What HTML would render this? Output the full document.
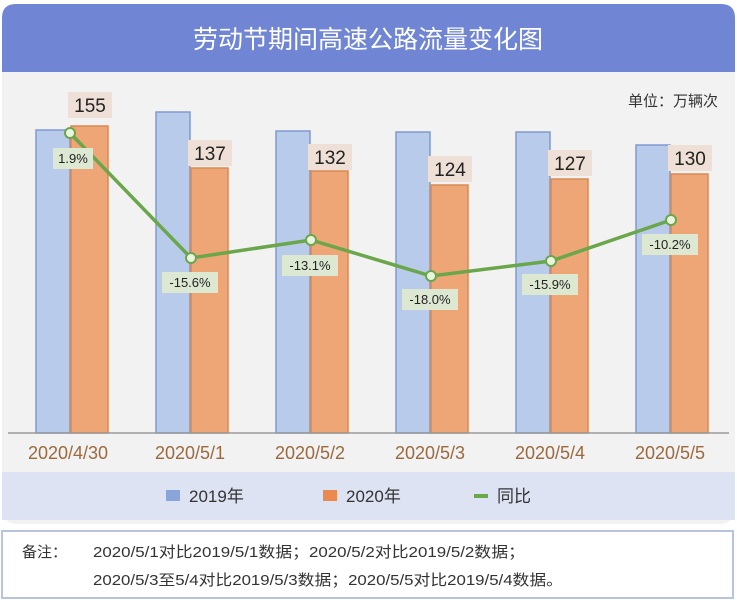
<!DOCTYPE html><html><head><meta charset="utf-8"><style>
body{margin:0;width:737px;height:600px;background:#fff;font-family:"Liberation Sans","Noto Sans CJK SC",sans-serif;overflow:hidden}
</style></head><body>
<svg width="737" height="600" xmlns="http://www.w3.org/2000/svg" style="position:absolute;left:0;top:0">
<rect x="0" y="0" width="737" height="600" fill="#fff"/>
<rect x="2" y="4" width="733" height="520" rx="14" fill="#f2f2f2"/>
<path d="M2 72 V18 Q2 4 16 4 H721 Q735 4 735 18 V72 Z" fill="#7086d4"/>
<text x="368" y="48" font-size="25" fill="#fff" text-anchor="middle" font-family="Noto Sans CJK SC,sans-serif">劳动节期间高速公路流量变化图</text>
<text x="718" y="106" font-size="15" fill="#333" text-anchor="end" font-family="Noto Sans CJK SC,sans-serif">单位：万辆次</text>
<g stroke-width="1.5">
<rect x="36" y="130" width="34" height="303" fill="#b9cbea" stroke="#7f99cf"/><rect x="71" y="126" width="37" height="307" fill="#eea677" stroke="#d98a55"/>
<rect x="156" y="112" width="34" height="321" fill="#b9cbea" stroke="#7f99cf"/><rect x="191" y="168" width="37" height="265" fill="#eea677" stroke="#d98a55"/>
<rect x="276" y="131" width="34" height="302" fill="#b9cbea" stroke="#7f99cf"/><rect x="311" y="171" width="37" height="262" fill="#eea677" stroke="#d98a55"/>
<rect x="396" y="132" width="34" height="301" fill="#b9cbea" stroke="#7f99cf"/><rect x="431" y="185" width="37" height="248" fill="#eea677" stroke="#d98a55"/>
<rect x="516" y="132" width="34" height="301" fill="#b9cbea" stroke="#7f99cf"/><rect x="551" y="179" width="37" height="254" fill="#eea677" stroke="#d98a55"/>
<rect x="636" y="145" width="34" height="288" fill="#b9cbea" stroke="#7f99cf"/><rect x="671" y="174" width="37" height="259" fill="#eea677" stroke="#d98a55"/>
</g>
<line x1="8" y1="433" x2="729" y2="433" stroke="#999" stroke-width="1.5"/>
<g font-size="19" fill="#222" text-anchor="middle">
<rect x="68" y="92" width="44" height="26" fill="#eee0d6"/><text x="90" y="112">155</text>
<rect x="188" y="140" width="44" height="26" fill="#eee0d6"/><text x="210" y="160">137</text>
<rect x="308" y="144" width="44" height="26" fill="#eee0d6"/><text x="330" y="164">132</text>
<rect x="428" y="156" width="44" height="26" fill="#eee0d6"/><text x="450" y="176">124</text>
<rect x="548" y="150" width="44" height="26" fill="#eee0d6"/><text x="570" y="170">127</text>
<rect x="668" y="145" width="44" height="26" fill="#eee0d6"/><text x="690" y="165">130</text>
</g>
<polyline points="70,133 191,258 311,240 431,276 551,261 671,220" fill="none" stroke="#6aa64a" stroke-width="3.5"/>
<g fill="#eaf5df" stroke="#6aa64a" stroke-width="2">
<circle cx="70" cy="133" r="5"/><circle cx="191" cy="258" r="5"/><circle cx="311" cy="240" r="5"/><circle cx="431" cy="276" r="5"/><circle cx="551" cy="261" r="5"/><circle cx="671" cy="220" r="5"/>
</g>
<g font-size="13" fill="#222" text-anchor="middle">
<rect x="53" y="148" width="40" height="21" fill="#dde8d2"/><text x="73" y="163">1.9%</text>
<rect x="162" y="272" width="56" height="21" fill="#dde8d2"/><text x="190" y="287">-15.6%</text>
<rect x="282" y="255" width="56" height="21" fill="#dde8d2"/><text x="310" y="270">-13.1%</text>
<rect x="402" y="289" width="56" height="21" fill="#dde8d2"/><text x="430" y="304">-18.0%</text>
<rect x="522" y="274" width="56" height="21" fill="#dde8d2"/><text x="550" y="289">-15.9%</text>
<rect x="642" y="234" width="56" height="21" fill="#dde8d2"/><text x="670" y="249">-10.2%</text>
</g>
<g font-size="18" fill="#9a6a3e" text-anchor="middle">
<text x="68" y="459">2020/4/30</text><text x="190" y="459">2020/5/1</text><text x="310" y="459">2020/5/2</text><text x="430" y="459">2020/5/3</text><text x="550" y="459">2020/5/4</text><text x="670" y="459">2020/5/5</text>
</g>
<rect x="2" y="472" width="733" height="48" fill="#dee3f3"/>
<rect x="166" y="490" width="14" height="11" fill="#8aa5da"/><text x="189" y="502" font-size="17" fill="#333" font-family="Liberation Sans,Noto Sans CJK SC,sans-serif">2019年</text>
<rect x="323" y="490" width="14" height="11" fill="#ea8a4f"/><text x="346" y="502" font-size="17" fill="#333" font-family="Liberation Sans,Noto Sans CJK SC,sans-serif">2020年</text>
<rect x="474" y="494" width="14" height="4" fill="#6aa64a"/><text x="497" y="502" font-size="17" fill="#333" font-family="Noto Sans CJK SC,sans-serif">同比</text>
<rect x="2" y="531" width="731" height="67" fill="#fff" stroke="#b8c3e0" stroke-width="2"/>
<g font-size="15" fill="#333" font-family="Liberation Sans,Noto Sans CJK SC,sans-serif">
<text x="22" y="557">备注：</text>
<text x="93" y="557" textLength="432" lengthAdjust="spacingAndGlyphs">2020/5/1对比2019/5/1数据；2020/5/2对比2019/5/2数据；</text>
<text x="93" y="585" textLength="470" lengthAdjust="spacingAndGlyphs">2020/5/3至5/4对比2019/5/3数据；2020/5/5对比2019/5/4数据。</text>
</g>
</svg>
</body></html>
